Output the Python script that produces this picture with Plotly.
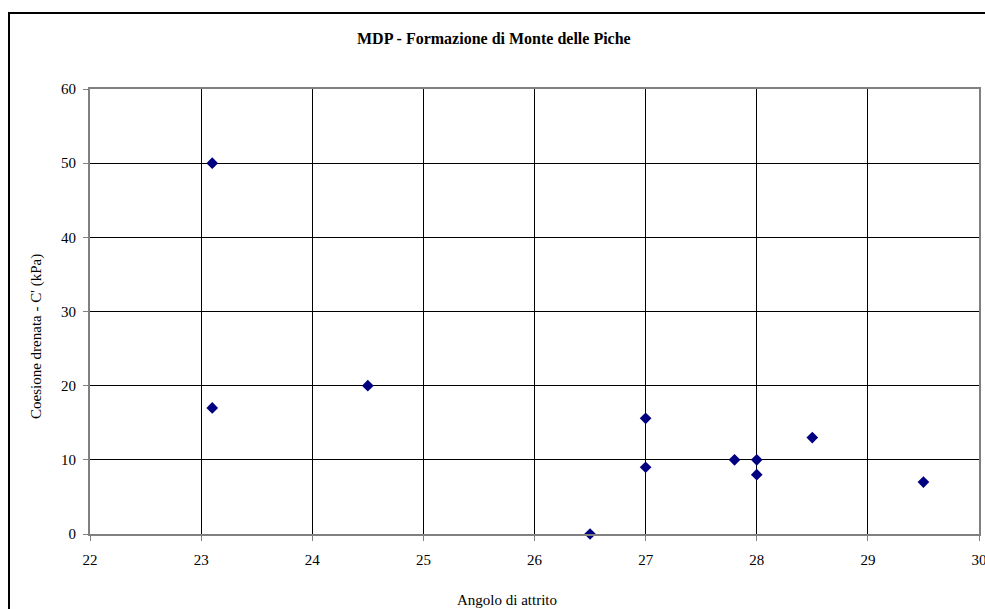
import plotly.graph_objects as go

# Angolo di attrito (deg) vs coesione drenata C' (kPa)
angolo = [23.1, 23.1, 24.5, 26.5, 27.0, 27.0, 27.8, 28.0, 28.0, 28.5, 29.5]
coesione = [50, 17, 20, 0, 15.6, 9, 10, 10, 8, 13, 7]

x_ticks = [22, 23, 24, 25, 26, 27, 28, 29, 30]
y_ticks = [0, 10, 20, 30, 40, 50, 60]

FONT = "Liberation Serif, Times New Roman, serif"

W, H = 985, 609
L, R, T, B = 90, 6, 89, 75
pw, ph = W - L - R, H - T - B


def px(x):
    """Horizontal pixel -> paper fraction."""
    return (x - L) / pw


def py(y):
    """Vertical pixel (from top) -> paper fraction."""
    return (H - B - y) / ph


fig = go.Figure()
fig.add_trace(go.Scatter(
    x=angolo, y=coesione, mode="markers",
    marker=dict(symbol="diamond", size=9, color="#000080",
                line=dict(width=0)),
    cliponaxis=False, showlegend=False,
))

axis_common = dict(
    showgrid=True, gridcolor="black", gridwidth=1, zeroline=False,
    showline=True, linecolor="#808080", linewidth=2, mirror=True,
    ticks="outside", ticklen=5, tickcolor="#808080", tickwidth=1,
    tickfont=dict(family=FONT, size=15, color="black"),
    automargin=False, ticklabeloverflow="allow",
)

fig.update_layout(
    width=W, height=H,
    margin=dict(l=L, r=R, t=T, b=B),
    paper_bgcolor="white", plot_bgcolor="white",
    font=dict(family=FONT, size=15, color="black"),
    xaxis=dict(range=[22, 30], tickvals=x_ticks, ticklabelstandoff=6,
               **axis_common),
    yaxis=dict(range=[0, 60], tickvals=y_ticks, ticklabelstandoff=4,
               **axis_common),
    annotations=[
        dict(text="<b>MDP - Formazione di Monte delle Piche</b>",
             xref="paper", yref="paper", x=px(494), y=py(39),
             xanchor="center", yanchor="middle", showarrow=False,
             font=dict(family=FONT, size=16, color="black")),
        dict(text="Angolo di attrito",
             xref="paper", yref="paper", x=px(507), y=py(600),
             xanchor="center", yanchor="middle", showarrow=False,
             font=dict(family=FONT, size=15, color="black")),
        dict(text="Coesione drenata - C' (kPa)", textangle=-90,
             xref="paper", yref="paper", x=px(36), y=py(337),
             xanchor="center", yanchor="middle", showarrow=False,
             font=dict(family=FONT, size=15, color="black")),
    ],
)

# Chart frame around the whole figure
fig.add_shape(type="rect", xref="paper", yref="paper",
              x0=px(9), x1=px(W + 5), y0=py(H + 5), y1=py(13),
              line=dict(color="black", width=2), fillcolor="rgba(0,0,0,0)",
              layer="below")

fig.write_html("out.html")
